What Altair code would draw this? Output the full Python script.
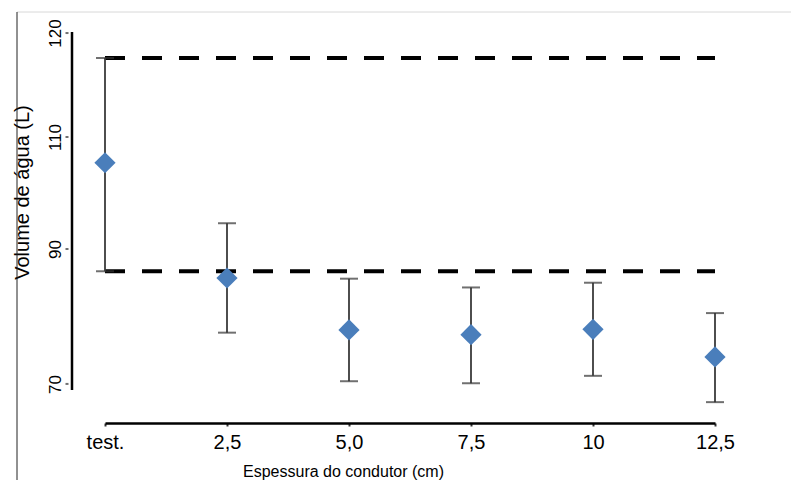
import altair as alt
import pandas as pd

# ---- data ----
categories = ["test.", "2,5", "5,0", "7,5", "10", "12,5"]
means = [105.4, 85.7, 78.0, 77.3, 78.1, 74.0]
upper = [117.6, 94.6, 85.6, 84.3, 85.0, 80.5]
lower = [86.7, 77.6, 70.4, 70.1, 71.2, 67.3]
ref_levels = [117.6, 86.7]
y_ticks = [70, 90, 110, 120]
# the original y axis is not evenly spaced: piecewise-linear scale
y_domain = [69.1, 90, 110, 120.1]
y_range = [358, 217, 105, 0]

df = pd.DataFrame({"cat": categories, "mean": means, "upper": upper, "lower": lower})
ref_df = pd.DataFrame({"level": ref_levels, "x0": [categories[0]] * 2, "x1": [categories[-1]] * 2})
tick_df = pd.DataFrame({"tick": y_ticks})

FONT = "Liberation Sans"

x_scale = alt.Scale(type="point", domain=categories, padding=0)
y_scale = alt.Scale(domain=y_domain, range=y_range, nice=False, zero=False)

x_axis = alt.Axis(
    title="Espessura do condutor (cm)", offset=33, grid=False,
    domainColor="black", domainWidth=2.5,
    tickColor="#333333", tickSize=3, tickWidth=2,
    labelAngle=0, labelFontSize=20, labelPadding=6, labelColor="black", labelFont=FONT,
    titleFontSize=16, titleFont=FONT, titleFontWeight="normal", titleColor="black",
    titleX=238, titleY=48, titleBaseline="middle", titleAlign="center",
)
y_axis = alt.Axis(
    title="Volume de água (L)", values=y_ticks, offset=34, grid=False,
    domain=False, ticks=False,
    labelAngle=270, labelAlign="center", labelBaseline="bottom", labelPadding=7,
    labelFontSize=17, labelColor="black", labelFont=FONT,
    titleAngle=270, titleX=-49, titleY=160, titleAlign="center", titleBaseline="middle",
    titleFontSize=20, titleFont=FONT, titleFontWeight="normal", titleColor="black",
)

def X(field):
    return alt.X(f"{field}:N", sort=categories, scale=x_scale, axis=x_axis)

def Y(field):
    return alt.Y(f"{field}:Q", scale=y_scale, axis=y_axis)

ref_lines = alt.Chart(ref_df).mark_rule(
    color="black", strokeWidth=4, strokeDash=[20, 17]
).encode(x=X("x0"), x2="x1", y=Y("level"))

bars = alt.Chart(df).mark_rule(color="#3a3a3a", strokeWidth=1.8).encode(
    x=X("cat"), y=Y("upper"), y2="lower"
)
cap_hi = alt.Chart(df).mark_tick(color="#333333", size=18, thickness=2).encode(
    x=X("cat"), y=Y("upper")
)
cap_lo = alt.Chart(df).mark_tick(color="#333333", size=18, thickness=2).encode(
    x=X("cat"), y=Y("lower")
)
points = alt.Chart(df).mark_point(
    shape="diamond", filled=True, size=450, color="#4A7EBB", opacity=1
).encode(x=X("cat"), y=Y("mean"))

frame_df = pd.DataFrame({"k": [0]})
# y axis line, offset to the left of the plot as in the original
y_axis_line = alt.Chart(frame_df).mark_rule(color="black", strokeWidth=2.5).encode(
    x=alt.value(-33), y=alt.value(0), y2=alt.value(358)
)
# small tick dots of the y axis
y_tick_dots = alt.Chart(tick_df).mark_tick(color="#333333", size=3, thickness=2, orient="horizontal").encode(
    x=alt.value(-38), y=Y("tick")
)
# thin frame lines of the original figure
frame_left = alt.Chart(frame_df).mark_rule(color="#222222", strokeWidth=1).encode(
    x=alt.value(-88), y=alt.value(-20), y2=alt.value(470)
)
frame_top = alt.Chart(frame_df).mark_rule(color="#d8d8d8", strokeWidth=1).encode(
    x=alt.value(-88), x2=alt.value(700), y=alt.value(-20)
)

chart = alt.layer(
    frame_top, frame_left, y_axis_line, y_tick_dots, ref_lines, bars, cap_hi, cap_lo, points
).properties(
    width=610, height=358,
    padding={"left": 97, "top": 24, "right": 76, "bottom": 90},
    autosize=alt.AutoSizeParams(type="none"),
).configure(font=FONT).configure_view(strokeWidth=0, stroke="transparent")

chart.save("out.html", embed_options={"renderer": "svg", "actions": False})
